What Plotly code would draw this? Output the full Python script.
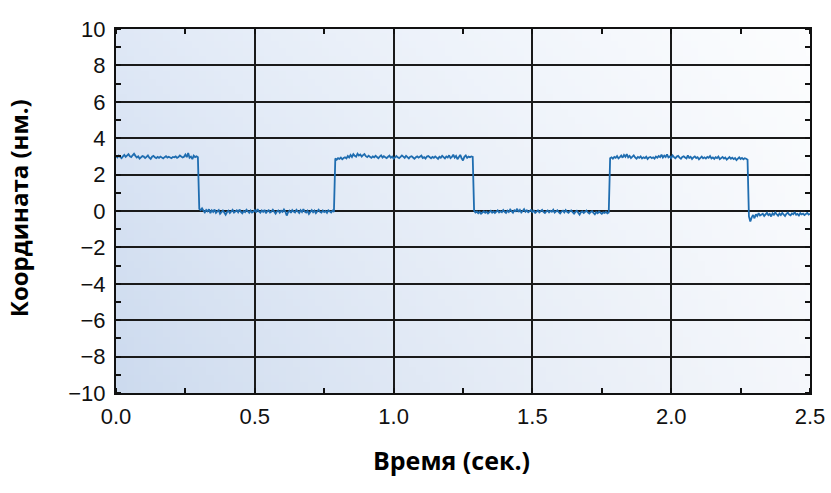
import base64, struct, zlib
import plotly.graph_objects as go

# ---------------- data ----------------
SAMPLE_DT = 0.005  # seconds between samples

seg_a = [3.02, 2.95, 3.05, 2.98, 2.90, 3.00, 3.08, 2.97, 3.04, 3.12,
         3.01, 2.96, 3.06, 3.15, 3.03, 2.94, 3.00, 2.88, 2.95, 3.02,
         2.99, 2.91, 2.97, 3.05, 2.93, 2.86, 2.98, 3.03, 2.95, 2.90,
         2.97, 2.92, 2.99, 2.94, 2.89, 2.96, 3.01, 2.93, 2.98, 2.94,
         2.90, 2.97, 2.95, 3.00, 2.92, 2.96, 3.05, 2.99, 2.94, 2.98,
         3.10, 2.96, 3.18, 2.93, 2.99, 2.85, 3.04, 2.96, 3.00, 2.95]

seg_b = [0.12, 0.05, 0.15, 0.02, -0.08, 0.06, -0.02, 0.10, -0.12, 0.04,
         -0.05, 0.08, -0.10, -0.02, 0.05, -0.15, -0.04, 0.03, -0.08, -0.20,
         -0.06, 0.02, -0.11, -0.03, 0.06, -0.09, -0.01, 0.04, -0.07, 0.08,
         -0.05, -0.13, 0.00, -0.06, 0.07, -0.04, -0.10, 0.02, -0.08, -0.03,
         0.05, -0.07, 0.10, -0.02, -0.09, 0.03, -0.05, 0.06, -0.12, -0.01,
         0.04, -0.08, -0.03, 0.07, -0.06, -0.14, -0.02, 0.03, -0.09, 0.01,
         -0.05, 0.08, -0.04, -0.25, -0.07, 0.02, -0.10, 0.05, -0.03, -0.08,
         0.06, -0.02, -0.11, 0.04, -0.06, 0.10, -0.04, -0.09, 0.01, -0.16,
         -0.03, 0.05, -0.07, 0.02, -0.12, -0.01, 0.07, -0.05, -0.09, 0.03,
         -0.06, 0.00, -0.10, 0.04, -0.03, -0.08, 0.02, -0.05]

seg_c = [2.88, 2.82, 2.90, 2.86, 2.93, 2.84, 2.91, 2.95, 2.89, 3.02,
         2.94, 3.08, 2.97, 3.12, 3.03, 2.98, 3.15, 3.05, 3.10, 2.99,
         3.07, 3.13, 3.01, 2.96, 3.04, 2.98, 2.92, 3.00, 2.95, 3.03,
         2.97, 2.90, 2.99, 3.06, 2.94, 3.01, 2.96, 2.91, 2.98, 3.04,
         2.93, 2.99, 2.88, 2.96, 3.02, 2.95, 2.90, 2.97, 3.05, 2.99,
         2.92, 3.03, 2.96, 2.89, 2.98, 3.01, 2.94, 2.87, 2.95, 3.00,
         2.93, 2.97, 3.04, 2.91, 2.96, 2.88, 2.99, 3.02, 2.94, 2.90,
         2.97, 2.92, 3.00, 2.95, 2.86, 2.98, 2.93, 3.03, 2.96, 2.89,
         2.99, 2.94, 3.06, 2.91, 2.97, 3.10, 2.93, 3.02, 2.85, 2.96,
         3.08, 2.90, 2.78, 2.98, 3.05, 2.92, 2.99, 2.95, 3.00, 2.97]

seg_d = [0.02, -0.08, -0.03, -0.12, -0.05, -0.15, -0.07, -0.02, -0.10, -0.04,
         -0.13, -0.06, 0.01, -0.09, -0.03, -0.11, -0.05, 0.03, -0.08, -0.02,
         -0.07, 0.05, -0.04, -0.10, 0.02, -0.06, 0.08, -0.03, -0.09, 0.04,
         -0.01, 0.12, -0.05, 0.06, -0.08, 0.00, 0.10, -0.04, 0.03, -0.07,
         -0.02, 0.05, -0.06, 0.02, -0.10, -0.03, 0.04, -0.08, -0.01, 0.06,
         -0.05, -0.11, -0.02, 0.03, -0.07, 0.01, -0.04, 0.07, -0.09, -0.02,
         0.04, -0.06, -0.13, -0.03, 0.02, -0.08, 0.05, -0.04, -0.10, -0.01,
         0.03, -0.07, -0.15, -0.05, 0.01, -0.09, -0.20, -0.06, -0.02, -0.11,
         -0.04, 0.02, -0.08, -0.14, -0.05, -0.01, -0.10, -0.18, -0.06, -0.12,
         -0.03, -0.09, -0.15, -0.07, -0.11, -0.04, -0.13, -0.08]

seg_e = [2.90, 2.95, 2.88, 2.97, 2.92, 3.02, 2.89, 2.96, 3.05, 2.93,
         3.08, 2.98, 3.12, 2.95, 3.03, 2.91, 2.99, 3.06, 2.94, 2.87,
         2.97, 2.92, 3.00, 2.89, 2.95, 2.91, 2.98, 2.86, 2.94, 2.97,
         2.90, 2.95, 2.88, 2.99, 2.93, 3.02, 2.96, 3.09, 2.94, 3.04,
         2.97, 3.11, 2.95, 3.00, 2.91, 3.06, 2.96, 2.90, 2.99, 3.03,
         2.93, 2.87, 2.97, 3.01, 2.94, 2.89, 3.05, 2.92, 2.98, 2.86,
         2.95, 3.00, 2.91, 2.96, 2.84, 2.93, 2.99, 2.90, 2.95, 2.88,
         2.97, 2.92, 3.02, 2.89, 2.94, 2.86, 2.96, 2.91, 2.99, 2.85,
         2.93, 2.97, 2.88, 2.94, 2.82, 2.90, 2.96, 2.87, 2.93, 2.85,
         2.91, 2.80, 2.89, 2.95, 2.86, 2.92, 2.84, 2.90, 2.87, 2.82]

seg_f = [-0.30, -0.58, -0.35, -0.22, -0.40, -0.18, -0.28, -0.12, -0.25, -0.20,
         -0.15, -0.27, -0.19, -0.10, -0.23, -0.16, -0.30, -0.13, -0.21, -0.08,
         -0.18, -0.26, -0.14, -0.22, -0.11, -0.19, -0.28, -0.15, -0.09, -0.20,
         -0.24, -0.13, -0.18, -0.06, -0.21, -0.16, -0.25, -0.12, -0.19, -0.14,
         -0.22, -0.17, -0.10, -0.20, -0.15]

position_nm = seg_a + seg_b + seg_c + seg_d + seg_e + seg_f
time_s = [round(i * SAMPLE_DT, 3) for i in range(len(position_nm))]

x_tick_vals = [0.0, 0.5, 1.0, 1.5, 2.0, 2.5]
x_tick_text = ["0.0", "0.5", "1.0", "1.5", "2.0", "2.5"]
y_tick_vals = [10, 8, 6, 4, 2, 0, -2, -4, -6, -8, -10]
y_tick_text = ["10", "8", "6", "4", "2", "0", "\u22122", "\u22124", "\u22126", "\u22128", "\u221210"]

x_title = "Время (сек.)"
y_title = "Координата (нм.)"


# ------------- background gradient (decorative PNG) -------------
def gradient_png(w=96, h=48):
    lb = (0xcc, 0xda, 0xee)  # left bottom
    lt = (0xdf, 0xe8, 0xf6)  # left top
    rb = (0xf5, 0xf7, 0xfb)  # right bottom
    rt = (0xfc, 0xfd, 0xfe)  # right top
    rows = b""
    for j in range(h):
        v = j / (h - 1)  # 0 top, 1 bottom
        left = [lt[k] + (lb[k] - lt[k]) * v for k in range(3)]
        right = [rt[k] + (rb[k] - rt[k]) * v for k in range(3)]
        row = b"\x00"
        for i in range(w):
            u = (i / (w - 1)) ** 0.85
            row += bytes(int(round(left[k] + (right[k] - left[k]) * u)) for k in range(3))
        rows += row
    def chunk(tag, data):
        c = struct.pack(">I", len(data)) + tag + data
        return c + struct.pack(">I", zlib.crc32(tag + data) & 0xffffffff)
    png = b"\x89PNG\r\n\x1a\n"
    png += chunk(b"IHDR", struct.pack(">IIBBBBB", w, h, 8, 2, 0, 0, 0))
    png += chunk(b"IDAT", zlib.compress(rows, 9))
    png += chunk(b"IEND", b"")
    return "data:image/png;base64," + base64.b64encode(png).decode()


fig = go.Figure()
fig.add_trace(go.Scatter(
    x=time_s, y=position_nm, mode="lines",
    line=dict(color="#1f6db0", width=1.8),
    hoverinfo="skip", showlegend=False,
))

fig.add_layout_image(dict(
    source=gradient_png(), xref="x", yref="y", x=0, y=10,
    sizex=2.5, sizey=20, sizing="stretch", layer="below",
    xanchor="left", yanchor="top",
))

tick_font = dict(family="Liberation Sans, Arial, sans-serif", size=22, color="#111")

common = dict(
    showgrid=True, gridcolor="#1a1a1a", gridwidth=1.6,
    zeroline=False, showline=True, linecolor="#111", linewidth=2.2, mirror="allticks",
    ticks="", tickfont=tick_font, automargin=False, fixedrange=True,
)
fig.update_xaxes(
    range=[0, 2.5], tickvals=x_tick_vals, ticktext=x_tick_text,
    minor=dict(dtick=0.25, tick0=0, ticks="inside", ticklen=5, tickwidth=1.5,
               tickcolor="#111", showgrid=False),
    ticklabelstandoff=2, **common,
)
fig.update_yaxes(
    range=[-10, 10], tickvals=y_tick_vals, ticktext=y_tick_text,
    minor=dict(dtick=1, tick0=0, ticks="inside", ticklen=5, tickwidth=1.5,
               tickcolor="#111", showgrid=False),
    ticklabelstandoff=4, **common,
)

fig.add_annotation(text=f"<b>{x_title}</b>", xref="paper", yref="paper",
                   x=0.484, y=-0.184, xanchor="center", yanchor="middle",
                   showarrow=False,
                   font=dict(family="Open Sans, sans-serif", size=25, color="#000"))
fig.add_annotation(text=f"<b>{y_title}</b>", xref="paper", yref="paper",
                   x=-0.141, y=0.508, xanchor="center", yanchor="middle",
                   textangle=-90, showarrow=False,
                   font=dict(family="Open Sans, sans-serif", size=24, color="#000"))

fig.update_layout(
    width=831, height=493,
    margin=dict(l=116, r=21, t=29, b=100),
    paper_bgcolor="white", plot_bgcolor="white",
    showlegend=False,
)

fig.write_html("out.html", config={"displayModeBar": False},
               post_script="document.body.style.margin='0';")
